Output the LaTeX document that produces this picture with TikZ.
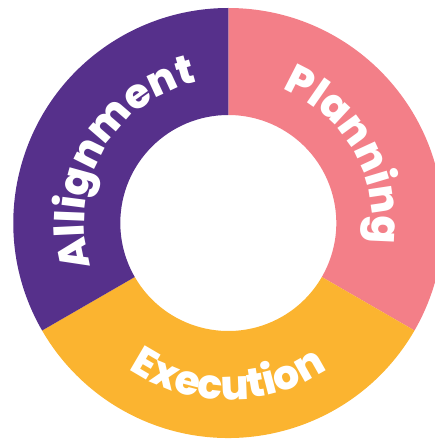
\documentclass[tikz,border=0pt]{standalone}
\usepackage{fontspec}
\newfontfamily\ringfont{Poppins}[BoldFont={Poppins ExtraBold}]
\usetikzlibrary{decorations.text}
\definecolor{alignpurple}{HTML}{56308B}
\definecolor{planpink}{HTML}{F37F88}
\definecolor{execamber}{HTML}{FBB430}
\newcommand\ringtext{\ringfont\bfseries\fontsize{41}{41}\selectfont\color{white}}
\tikzset{ringlabel/.style={decorate, decoration={text along path, text align=center, text={|\ringtext|#1}}}}
\begin{document}
\begin{tikzpicture}[x=1pt,y=1pt]
	\useasboundingbox (-228.3,-216) rectangle (206.7,223);
	\clip (-228.3,-216) rectangle (206.7,223);
	% the three ring segments
	\foreach \a/\b/\c in {90/-30/planpink,-30/-150/execamber,210/90/alignpurple}
	\fill[\c] (\a:215) arc[start angle=\a,end angle=\b,radius=215] -- (\b:108)
		arc[start angle=\b,end angle=\a,radius=108] -- cycle;
	% labels along the ring
	\path[ringlabel=Planning] (90:144) arc[start angle=90,end angle=-30,radius=144];
	\path[ringlabel=Allignment] (210:144) arc[start angle=210,end angle=90,radius=144];
	\path[ringlabel=Execution] (210:177) arc[start angle=210,end angle=330,radius=177];
\end{tikzpicture}
\end{document}
